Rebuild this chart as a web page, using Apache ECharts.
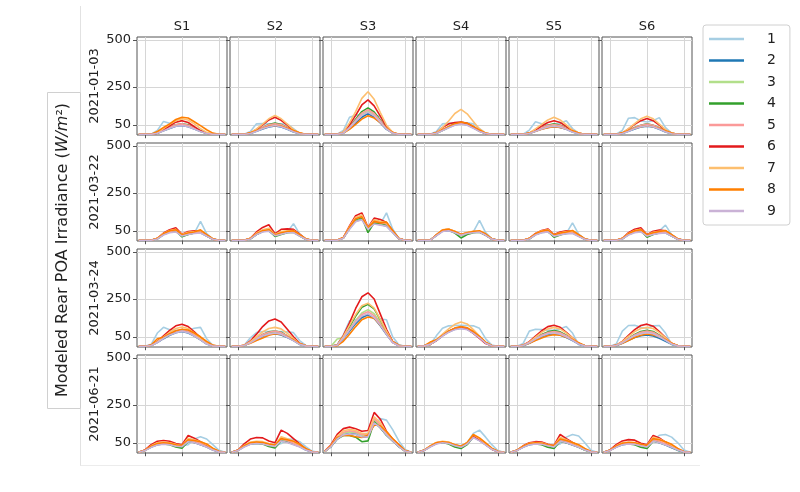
<!DOCTYPE html>
<html>
<head>
<meta charset="utf-8">
<script src="https://cdn.jsdelivr.net/npm/echarts@6/dist/echarts.min.js"></script>
<style>
  html, body { margin: 0; padding: 0; background: #fff; }
  #chart { width: 800px; height: 492px; }
</style>
</head>
<body>
<div id="chart"></div>
<script>
// hours of day for every curve
const hours = [5, 6, 7, 8, 9, 10, 11, 12, 13, 14, 15, 16, 17, 18, 19];
const sites = ['S1', 'S2', 'S3', 'S4', 'S5', 'S6'];
const dates = ['2021-01-03', '2021-03-22', '2021-03-24', '2021-06-21'];
const seriesNames = ['1', '2', '3', '4', '5', '6', '7', '8', '9'];
const yTicks = [50, 250, 500];
const xTicks = [6, 12, 18];

// Paired palette, one colour per series 1..9
const colors = ['#a6cee3', '#1f78b4', '#b2df8a', '#33a02c', '#fb9a99', '#e31a1c', '#fdbf6f', '#ff7f00', '#cab2d6'];

// ---- 2021-01-03 ----
const r0103_S1 = [
    [0,0,0,20,68,58,48,50,46,38,22,6,0,0,0],
    [0,0,0,5,18,30,42,46,40,28,14,4,0,0,0],
    [0,0,0,6,20,34,46,52,46,32,16,4,0,0,0],
    [0,0,0,6,22,36,50,56,50,34,18,5,0,0,0],
    [0,0,0,6,22,36,50,55,48,34,17,5,0,0,0],
    [0,0,0,5,24,45,64,72,62,40,18,5,0,0,0],
    [0,0,0,8,30,52,72,82,75,55,30,10,0,0,0],
    [0,0,0,14,36,55,78,90,86,66,46,24,6,0,0],
    [0,0,0,5,18,32,42,46,40,28,14,4,0,0,0]
];
const r0103_S2 = [
    [0,0,0,15,55,56,55,54,55,54,30,5,0,0,0],
    [0,0,0,4,16,28,38,44,38,26,12,3,0,0,0],
    [0,0,0,5,18,32,44,50,44,30,14,3,0,0,0],
    [0,0,0,5,20,36,52,60,52,36,16,4,0,0,0],
    [0,0,0,5,20,36,50,56,50,34,16,4,0,0,0],
    [0,0,0,6,26,50,76,90,74,48,20,5,0,0,0],
    [0,0,0,7,28,54,82,100,82,54,24,6,0,0,0],
    [0,0,0,8,20,32,42,46,42,32,20,8,0,0,0],
    [0,0,0,4,16,30,40,46,40,28,13,3,0,0,0]
];
const r0103_S3 = [
    [0,0,0,20,90,100,105,110,100,95,40,8,0,0,0],
    [0,0,0,6,30,60,90,110,90,60,26,6,0,0,0],
    [0,0,0,8,36,70,104,122,102,68,30,6,0,0,0],
    [0,0,0,8,40,80,120,140,118,76,32,7,0,0,0],
    [0,0,0,8,38,74,112,130,110,72,30,6,0,0,0],
    [0,0,0,10,50,100,155,182,150,96,40,8,0,0,0],
    [0,0,0,12,60,120,190,225,185,115,48,10,0,0,0],
    [0,0,0,6,26,52,80,98,86,62,32,10,0,0,0],
    [0,0,0,6,34,68,100,116,98,64,28,6,0,0,0]
];
const r0103_S4 = [
    [0,0,0,15,55,58,60,62,60,55,30,6,0,0,0],
    [0,0,0,5,20,36,50,56,50,34,16,4,0,0,0],
    [0,0,0,5,20,36,52,58,52,36,16,4,0,0,0],
    [0,0,0,6,22,40,56,62,56,38,18,4,0,0,0],
    [0,0,0,5,22,38,54,60,54,36,17,4,0,0,0],
    [0,0,0,8,35,55,62,64,58,40,18,4,0,0,0],
    [0,0,0,8,36,70,110,132,108,68,28,6,0,0,0],
    [0,0,0,6,24,40,56,64,58,42,22,6,0,0,0],
    [0,0,0,5,20,34,48,54,48,32,15,4,0,0,0]
];
const r0103_S5 = [
    [0,0,0,22,66,55,50,52,58,72,30,6,0,0,0],
    [0,0,0,4,16,28,36,40,36,26,12,3,0,0,0],
    [0,0,0,5,18,30,42,48,42,30,14,3,0,0,0],
    [0,0,0,5,20,34,48,55,48,34,16,4,0,0,0],
    [0,0,0,5,20,34,46,52,46,32,15,4,0,0,0],
    [0,0,0,6,24,44,62,72,62,42,20,5,0,0,0],
    [0,0,0,7,28,52,76,90,76,50,22,6,0,0,0],
    [0,0,0,6,16,26,34,40,36,28,18,6,0,0,0],
    [0,0,0,4,16,28,38,42,38,26,12,3,0,0,0]
];
const r0103_S6 = [
    [0,0,0,20,85,88,70,65,72,88,35,6,0,0,0],
    [0,0,0,4,16,28,38,42,38,26,12,3,0,0,0],
    [0,0,0,5,18,32,44,50,44,30,14,3,0,0,0],
    [0,0,0,5,20,36,48,55,48,34,16,4,0,0,0],
    [0,0,0,5,20,35,48,54,48,33,15,4,0,0,0],
    [0,0,0,6,28,52,72,83,72,48,22,5,0,0,0],
    [0,0,0,7,30,56,82,95,82,54,24,6,0,0,0],
    [0,0,0,8,20,32,40,45,40,30,18,6,0,0,0],
    [0,0,0,4,16,30,40,45,40,28,13,3,0,0,0]
];

// ---- 2021-03-22 ----
const r0322_S1 = [
    [0,0,0,8,30,42,46,22,30,38,100,35,6,0,0],
    [0,0,0,8,30,44,48,24,32,38,40,22,5,0,0],
    [0,0,0,8,30,44,48,22,32,38,42,24,5,0,0],
    [0,0,0,8,32,46,50,18,30,40,44,24,5,0,0],
    [0,0,0,8,32,46,52,26,36,42,44,24,5,0,0],
    [0,0,0,10,38,56,66,32,46,50,48,28,6,0,0],
    [0,0,0,10,36,52,58,30,42,46,50,28,6,0,0],
    [0,0,0,10,34,50,56,28,38,44,55,30,8,0,0],
    [0,0,0,7,28,40,44,22,30,36,38,22,5,0,0]
];
const r0322_S2 = [
    [0,0,0,8,30,46,52,26,36,44,88,34,6,0,0],
    [0,0,0,8,30,46,50,24,34,42,44,24,5,0,0],
    [0,0,0,8,32,48,52,24,34,42,44,24,5,0,0],
    [0,0,0,8,32,48,52,20,30,40,42,24,5,0,0],
    [0,0,0,8,34,50,56,28,38,46,46,26,5,0,0],
    [0,0,0,10,44,68,82,34,58,60,58,32,6,0,0],
    [0,0,0,10,38,56,64,30,46,50,52,30,6,0,0],
    [0,0,0,10,34,50,56,28,40,46,50,30,8,0,0],
    [0,0,0,7,30,44,48,24,32,40,40,22,5,0,0]
];
const r0322_S3 = [
    [0,0,0,12,60,100,110,60,90,85,145,60,10,0,0],
    [0,0,0,12,62,104,115,62,92,82,76,42,8,0,0],
    [0,0,0,12,62,106,118,58,94,86,80,44,8,0,0],
    [0,0,0,12,64,110,122,40,92,90,82,44,8,0,0],
    [0,0,0,12,66,114,128,66,100,94,86,46,8,0,0],
    [0,0,0,14,76,130,145,68,117,110,94,50,9,0,0],
    [0,0,0,14,72,122,134,66,108,100,92,48,9,0,0],
    [0,0,0,14,68,114,124,64,100,92,96,52,10,0,0],
    [0,0,0,11,58,98,108,58,86,80,74,40,8,0,0]
];
const r0322_S4 = [
    [0,0,0,25,48,50,40,28,38,44,105,40,8,0,0],
    [0,0,0,26,48,52,42,26,36,42,44,28,6,0,0],
    [0,0,0,26,50,54,42,26,36,42,44,28,6,0,0],
    [0,0,0,26,50,54,38,12,30,40,42,26,6,0,0],
    [0,0,0,27,52,56,44,28,38,44,46,28,6,0,0],
    [0,0,0,28,54,58,46,30,40,46,46,28,6,0,0],
    [0,0,0,28,55,60,48,30,42,48,48,30,6,0,0],
    [0,0,0,28,54,58,46,30,40,46,50,34,8,0,0],
    [0,0,0,24,46,50,40,26,36,40,42,26,6,0,0]
];
const r0322_S5 = [
    [0,0,0,8,30,40,44,22,30,36,92,32,6,0,0],
    [0,0,0,8,30,42,46,22,30,36,38,22,5,0,0],
    [0,0,0,8,30,42,46,22,30,36,40,22,5,0,0],
    [0,0,0,8,30,44,48,16,28,38,42,24,5,0,0],
    [0,0,0,8,32,44,50,24,34,40,42,24,5,0,0],
    [0,0,0,10,36,52,60,30,44,50,48,28,6,0,0],
    [0,0,0,10,34,50,56,28,40,46,48,28,6,0,0],
    [0,0,0,10,34,48,54,28,38,44,52,30,8,0,0],
    [0,0,0,7,28,40,44,22,28,34,36,20,5,0,0]
];
const r0322_S6 = [
    [0,0,0,8,30,42,46,22,32,50,80,30,6,0,0],
    [0,0,0,8,30,44,48,22,32,38,40,22,5,0,0],
    [0,0,0,8,30,44,48,22,32,38,40,22,5,0,0],
    [0,0,0,8,32,46,50,16,30,40,42,24,5,0,0],
    [0,0,0,8,32,46,52,24,36,42,44,24,5,0,0],
    [0,0,0,10,40,58,66,30,48,54,50,28,6,0,0],
    [0,0,0,10,36,52,58,28,42,48,50,28,6,0,0],
    [0,0,0,10,34,50,56,28,40,46,52,30,8,0,0],
    [0,0,0,7,28,40,44,22,30,36,38,22,5,0,0]
];

// ---- 2021-03-24 ----
const r0324_S1 = [
    [0,0,10,70,100,88,84,80,86,95,100,40,5,0,0],
    [0,0,4,20,40,58,72,78,70,54,34,12,2,0,0],
    [0,0,4,22,44,62,76,82,74,56,36,14,2,0,0],
    [0,0,4,22,44,62,76,84,76,56,36,14,2,0,0],
    [0,0,4,22,46,66,80,88,80,60,38,14,2,0,0],
    [0,0,5,26,55,84,108,117,104,76,44,16,2,0,0],
    [0,0,5,24,50,74,94,102,94,70,42,16,2,0,0],
    [0,0,6,40,48,66,82,90,86,70,50,26,6,0,0],
    [0,0,4,20,42,60,72,80,72,54,34,12,2,0,0]
];
const r0324_S2 = [
    [0,0,5,45,72,78,78,78,78,76,72,30,4,0,0],
    [0,0,4,18,36,52,62,66,60,46,30,10,2,0,0],
    [0,0,4,20,40,58,70,76,70,52,32,12,2,0,0],
    [0,0,4,22,42,62,76,80,74,54,34,12,2,0,0],
    [0,0,4,22,42,62,74,80,72,54,34,12,2,0,0],
    [0,0,5,28,64,104,134,144,128,90,50,16,2,0,0],
    [0,0,5,24,50,76,94,100,92,68,40,14,2,0,0],
    [0,0,5,16,30,44,58,66,62,50,34,14,4,0,0],
    [0,0,4,18,38,54,64,70,64,48,30,10,2,0,0]
];
const r0324_S3 = [
    [0,0,8,60,135,140,150,167,145,144,140,50,8,0,0],
    [0,0,5,40,80,120,152,167,148,108,62,20,3,0,0],
    [0,0,38,45,90,136,176,194,172,124,70,22,3,0,0],
    [0,0,6,50,104,160,206,222,198,140,78,24,4,0,0],
    [0,0,5,44,90,132,168,183,162,118,66,20,3,0,0],
    [0,0,6,56,124,200,262,283,250,170,90,26,4,0,0],
    [0,0,6,52,110,168,214,228,202,142,80,24,4,0,0],
    [0,0,3,26,64,104,140,155,148,112,68,24,5,0,0],
    [0,0,5,42,86,128,160,172,152,112,64,20,3,0,0]
];
const r0324_S4 = [
    [0,2,10,55,95,108,110,111,110,108,95,40,6,0,0],
    [0,2,10,30,55,76,90,96,90,70,46,18,3,0,0],
    [0,2,10,30,56,78,92,98,92,72,46,18,3,0,0],
    [0,2,10,32,58,80,94,100,94,72,48,18,3,0,0],
    [0,2,10,32,58,80,96,102,96,74,48,18,3,0,0],
    [0,2,10,30,56,78,94,100,92,68,42,14,2,0,0],
    [0,2,10,34,64,92,116,128,118,88,54,20,3,0,0],
    [0,2,22,34,58,80,96,104,98,78,52,22,4,0,0],
    [0,2,10,30,54,74,88,94,88,68,44,16,3,0,0]
];
const r0324_S5 = [
    [0,0,15,80,90,88,85,84,92,104,70,8,0,0,0],
    [0,0,3,16,34,50,62,66,60,46,30,12,2,0,0],
    [0,0,4,18,38,56,68,74,68,52,34,14,2,0,0],
    [0,0,4,20,42,62,76,83,76,58,38,14,2,0,0],
    [0,0,4,20,40,60,72,78,72,56,36,14,2,0,0],
    [0,0,5,24,54,82,104,111,100,74,44,16,2,0,0],
    [0,0,5,22,48,74,92,100,92,70,44,16,2,0,0],
    [0,0,5,16,30,44,56,61,58,48,36,18,4,0,0],
    [0,0,4,18,38,54,66,70,64,50,32,12,2,0,0]
];
const r0324_S6 = [
    [0,0,12,80,110,111,100,95,108,110,70,10,0,0,0],
    [0,0,3,16,32,46,56,60,54,42,26,10,2,0,0],
    [0,0,4,18,38,56,68,74,68,52,34,12,2,0,0],
    [0,0,4,20,42,62,78,85,78,58,38,14,2,0,0],
    [0,0,4,20,40,60,74,80,74,56,36,14,2,0,0],
    [0,0,5,26,58,88,110,117,106,78,46,16,2,0,0],
    [0,0,5,24,52,78,94,100,94,72,44,16,2,0,0],
    [0,0,5,16,30,46,58,65,60,50,36,16,4,0,0],
    [0,0,4,18,38,56,66,72,66,50,32,12,2,0,0]
];

// ---- 2021-06-21 ----
const r0621_S1 = [
    [0,10,28,40,45,44,38,34,40,70,82,70,40,10,0],
    [0,10,28,40,44,42,34,30,60,52,40,28,12,2,0],
    [0,10,30,42,46,44,36,32,62,56,44,30,14,2,0],
    [0,10,30,42,44,40,28,22,56,52,42,30,14,2,0],
    [0,10,30,44,48,46,38,34,64,58,46,32,14,2,0],
    [0,12,40,58,62,58,46,40,89,74,56,38,16,3,0],
    [0,11,34,50,54,50,42,36,74,66,56,40,18,3,0],
    [0,11,32,46,50,48,40,36,66,62,56,44,22,5,0],
    [0,9,26,38,42,40,32,30,56,50,40,28,12,2,0]
];
const r0621_S2 = [
    [0,10,30,44,48,46,40,36,46,70,68,56,30,6,0],
    [0,10,30,44,48,46,36,30,62,54,42,30,12,2,0],
    [0,10,32,46,50,48,38,32,66,58,46,32,14,2,0],
    [0,10,32,46,48,44,30,22,60,54,44,30,14,2,0],
    [0,10,32,48,52,50,40,34,70,62,48,32,14,2,0],
    [0,12,44,70,78,76,60,50,117,100,72,44,16,3,0],
    [0,11,36,54,58,56,46,38,82,72,58,40,16,3,0],
    [0,11,34,50,54,52,44,38,72,66,58,42,20,4,0],
    [0,9,28,42,46,44,36,30,60,52,40,28,12,2,0]
];
const r0621_S3 = [
    [5,30,70,95,105,100,95,100,140,178,170,120,60,15,0],
    [5,30,70,95,100,95,80,80,160,130,90,60,30,6,0],
    [5,32,74,100,108,104,90,88,170,140,98,64,32,6,0],
    [5,30,70,89,89,80,56,60,161,130,90,60,30,6,0],
    [5,34,78,106,114,108,94,92,178,146,100,66,32,6,0],
    [6,40,95,125,133,124,111,115,211,175,110,70,39,8,0],
    [5,36,84,114,120,116,100,98,188,156,106,68,34,6,0],
    [5,34,78,89,89,82,78,90,144,140,110,72,40,10,0],
    [5,30,70,92,98,94,82,80,156,130,92,60,30,6,0]
];
const r0621_S4 = [
    [0,10,30,46,52,50,40,34,50,100,117,80,40,8,0],
    [0,10,30,46,52,48,34,26,44,80,62,40,16,3,0],
    [0,10,30,48,54,50,36,28,46,84,66,42,18,3,0],
    [0,10,30,48,52,44,28,20,40,82,66,42,18,3,0],
    [0,10,30,48,54,50,38,30,48,86,68,44,18,3,0],
    [0,10,32,50,56,52,38,30,48,84,64,40,16,3,0],
    [0,10,34,52,58,54,40,32,52,92,72,46,18,3,0],
    [0,10,32,50,56,52,40,32,50,94,76,50,22,5,0],
    [0,9,28,44,50,46,34,26,44,78,60,38,16,3,0]
];
const r0621_S5 = [
    [0,10,28,42,46,44,38,34,44,80,94,86,50,10,0],
    [0,10,28,40,44,42,32,26,60,50,38,26,12,2,0],
    [0,10,30,42,46,44,34,28,64,54,42,28,12,2,0],
    [0,10,30,42,44,40,26,20,58,50,40,28,12,2,0],
    [0,10,30,44,48,46,36,30,68,58,44,30,14,2,0],
    [0,11,34,50,56,54,42,36,94,72,52,34,14,2,0],
    [0,11,32,48,52,50,40,34,80,66,50,34,16,3,0],
    [0,11,32,46,50,48,40,34,70,62,52,40,20,4,0],
    [0,9,26,40,44,42,34,28,58,50,38,26,12,2,0]
];
const r0621_S6 = [
    [0,10,28,42,48,46,40,36,60,90,94,80,50,12,0],
    [0,10,28,40,44,42,32,26,60,50,38,24,10,2,0],
    [0,10,30,42,46,44,34,28,64,54,42,28,12,2,0],
    [0,10,30,42,44,40,26,20,58,52,40,28,12,2,0],
    [0,10,30,44,48,46,36,30,68,58,44,30,14,2,0],
    [0,12,40,60,67,64,48,40,89,76,54,34,14,2,0],
    [0,11,34,50,54,52,42,36,80,70,54,36,16,3,0],
    [0,11,32,48,52,50,42,36,72,66,56,42,20,4,0],
    [0,9,26,40,44,42,34,28,58,50,38,26,12,2,0]
];

const panelData = [
    [r0103_S1, r0103_S2, r0103_S3, r0103_S4, r0103_S5, r0103_S6],
    [r0322_S1, r0322_S2, r0322_S3, r0322_S4, r0322_S5, r0322_S6],
    [r0324_S1, r0324_S2, r0324_S3, r0324_S4, r0324_S5, r0324_S6],
    [r0621_S1, r0621_S2, r0621_S3, r0621_S4, r0621_S5, r0621_S6]
];

const chart = echarts.init(document.getElementById('chart'));
const FONT = 'DejaVu Sans';
const TXT = '#222';

const panelLeft = 137, panelStep = 93, panelW = 90;
const panelTop = 37, rowStep = 106, panelH = 98;

const grids = [], xAxes = [], yAxes = [], series = [], titles = [];

dates.forEach(function (date, r) {
    sites.forEach(function (site, c) {
        const idx = r * sites.length + c;
        grids.push({
            left: panelLeft + c * panelStep,
            top: panelTop + r * rowStep,
            width: panelW,
            height: panelH,
            show: true,
            borderColor: '#555',
            borderWidth: 1,
            backgroundColor: '#fff'
        });
        xAxes.push({
            gridIndex: idx,
            type: 'value',
            min: 4.7,
            max: 19.3,
            axisLine: { show: false },
            axisTick: { show: true, length: 4, customValues: xTicks, lineStyle: { color: '#555' } },
            axisLabel: { show: false, customValues: xTicks },
            splitLine: { show: true, lineStyle: { color: '#d6d6d6', width: 1 } }
        });
        yAxes.push({
            gridIndex: idx,
            type: 'value',
            min: -4,
            max: 515,
            name: c === 0 ? date : '',
            nameLocation: 'middle',
            nameGap: 36,
            nameRotate: 90,
            nameTextStyle: { fontFamily: FONT, fontSize: 13, color: TXT },
            axisLine: { show: false },
            axisTick: { show: true, length: 4, customValues: yTicks, lineStyle: { color: '#555' } },
            axisLabel: {
                show: c === 0,
                customValues: yTicks,
                fontFamily: FONT, fontSize: 13, color: TXT, margin: 6
            },
            splitLine: { show: true, lineStyle: { color: '#d6d6d6', width: 1 } }
        });
        panelData[r][c].forEach(function (vals, s) {
            series.push({
                name: seriesNames[s],
                type: 'line',
                xAxisIndex: idx,
                yAxisIndex: idx,
                symbol: 'none',
                silent: true,
                animation: false,
                lineStyle: { width: 1.6, color: colors[s] },
                itemStyle: { color: colors[s] },
                data: hours.map(function (h, i) { return [h, vals[i]]; })
            });
        });
    });
});

sites.forEach(function (site, c) {
    titles.push({
        text: site,
        left: panelLeft + c * panelStep + panelW / 2,
        textAlign: 'center',
        top: 20,
        padding: 0,
        textStyle: { fontFamily: FONT, fontSize: 13, fontWeight: 'normal', color: TXT }
    });
});

chart.setOption({
    backgroundColor: '#fff',
    animation: false,
    title: titles,
    grid: grids,
    xAxis: xAxes,
    yAxis: yAxes,
    series: series,
    legend: {
        orient: 'vertical',
        left: 703,
        top: 25,
        data: seriesNames,
        icon: 'rect',
        itemWidth: 35,
        itemHeight: 2.5,
        itemGap: 5.5,
        padding: [6, 14, 6, 6],
        borderColor: '#d0d0d0',
        borderWidth: 1,
        borderRadius: 3,
        textStyle: { fontFamily: FONT, fontSize: 14, color: TXT, lineHeight: 16, padding: [0, 0, 0, 18] }
    },
    graphic: [
        {
            type: 'line',
            shape: { x1: 80.5, y1: 6, x2: 80.5, y2: 466 },
            style: { stroke: '#e2e2e2', lineWidth: 1 }
        },
        {
            type: 'line',
            shape: { x1: 80.5, y1: 465.5, x2: 700, y2: 465.5 },
            style: { stroke: '#ececec', lineWidth: 1 }
        },
        {
            type: 'rect',
            shape: { x: 47.5, y: 92.5, width: 33, height: 316 },
            style: { fill: '#fff', stroke: '#d0d0d0', lineWidth: 1 }
        },
        {
            type: 'text',
            x: 63,
            y: 250,
            rotation: Math.PI / 2,
            style: {
                text: 'Modeled Rear POA Irradiance ({it|W/m}²)',
                fontFamily: FONT,
                fontSize: 16,
                fill: TXT,
                align: 'center',
                verticalAlign: 'middle',
                rich: {
                    it: { fontFamily: FONT, fontSize: 16, fontStyle: 'italic', fill: TXT }
                }
            }
        }
    ]
});
</script>
</body>
</html>
